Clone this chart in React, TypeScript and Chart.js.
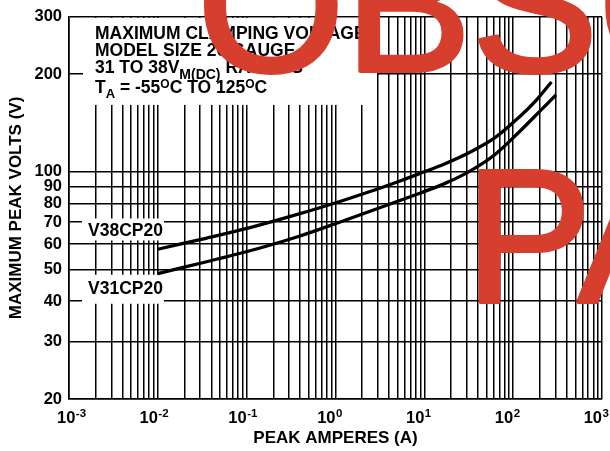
import React, { useEffect, useRef } from 'react';
import { Chart, registerables } from 'chart.js';

Chart.register(...registerables);

// ---- data ----
const v38Amps = [0.01, 0.0298, 0.109, 0.398, 1.12, 2.45, 5.32, 8.9, 17.1, 32.6, 62.5, 119, 176, 270];
const v38Volts = [57.8, 61.9, 67.4, 74.4, 81.1, 87.0, 93.8, 98.9, 106, 115, 127.5, 148.2, 164.6, 189.2];
const v31Amps = [0.01, 0.109, 0.398, 1.28, 2.45, 8.9, 17.1, 32.6, 62.5, 119, 200, 303];
const v31Volts = [48.6, 57.2, 63.5, 71.0, 75.7, 86.0, 92.2, 100.6, 113.2, 133.4, 153.8, 172.6];
const seriesNames = ['V38CP20', 'V31CP20'];
const seriesLabelVolts = [66.5, 44];

const xDecadeExponents = [-3, -2, -1, 0, 1, 2, 3];
const xMultipliers = [1, 2, 3, 4, 5, 6, 7, 8, 9];
const yTickValues = [20, 30, 40, 50, 60, 70, 80, 90, 100, 200, 300];

const xTitle = 'PEAK AMPERES (A)';
const yTitle = 'MAXIMUM PEAK VOLTS (V)';
const watermarkLines = ['OBSOLETE', 'PART'];

const FONT = "'Liberation Sans', Arial, Helvetica, sans-serif";
const RED = '#D63E2E';

const xGridValues: number[] = [];
for (let i = 0; i < xDecadeExponents.length - 1; i++) {
  for (const m of xMultipliers) {
    xGridValues.push(Number((m * Math.pow(10, xDecadeExponents[i])).toPrecision(3)));
  }
}
xGridValues.push(Math.pow(10, xDecadeExponents[xDecadeExponents.length - 1]));

type Run = { t: string; size: number; dy: number };

function drawRuns(ctx: CanvasRenderingContext2D, x: number, y: number, runs: Run[]) {
  let cx = x;
  for (const r of runs) {
    ctx.font = `bold ${r.size}px ${FONT}`;
    ctx.fillText(r.t, cx, y + r.dy);
    cx += ctx.measureText(r.t).width;
  }
}

const titleRuns: Run[][] = [
  [{ t: 'MAXIMUM CLAMPING VOLTAGE', size: 17.5, dy: 0 }],
  [{ t: 'MODEL SIZE 20 GAUGE', size: 17.5, dy: 0 }],
  [
    { t: '31 TO 38V', size: 17.5, dy: 0 },
    { t: 'M(DC)', size: 14, dy: 6.5 },
    { t: ' RATINGS', size: 17.5, dy: 0 },
  ],
  [
    { t: 'T', size: 17.5, dy: 0 },
    { t: 'A', size: 13, dy: 4.5 },
    { t: ' = -55', size: 17.5, dy: 0 },
    { t: 'O', size: 12, dy: -5 },
    { t: 'C TO 125', size: 17.5, dy: 0 },
    { t: 'O', size: 12, dy: -5 },
    { t: 'C', size: 17.5, dy: 0 },
  ],
];

const overlayPlugin = {
  id: 'overlay',
  beforeDatasetsDraw(chart: any) {
    const { ctx, chartArea: a } = chart;
    const ys = chart.scales.y;
    ctx.save();
    ctx.fillStyle = '#fff';
    ctx.fillRect(a.left + 14, a.top + 1, 294, 87);
    const cy0 = ys.getPixelForValue(seriesLabelVolts[0]);
    const cy1 = ys.getPixelForValue(seriesLabelVolts[1]);
    ctx.fillRect(a.left + 13, cy0 - 11, 82, 22);
    ctx.fillRect(a.left + 13, cy1 - 13, 82, 29);

    ctx.fillStyle = '#000';
    ctx.textAlign = 'left';
    ctx.textBaseline = 'alphabetic';
    const baselines = [21.7, 39, 55.7, 76.3];
    titleRuns.forEach((runs, i) => drawRuns(ctx, a.left + 26, a.top + baselines[i], runs));

    ctx.font = `bold 17.5px ${FONT}`;
    ctx.fillText(seriesNames[0], a.left + 19, cy0 + 6.3);
    ctx.fillText(seriesNames[1], a.left + 19, cy1 + 6.3);
    ctx.restore();
  },
  afterDraw(chart: any) {
    const { ctx, chartArea: a } = chart;
    const xs = chart.scales.x;
    ctx.save();
    ctx.fillStyle = '#000';
    ctx.textAlign = 'left';
    ctx.textBaseline = 'alphabetic';
    for (const e of xDecadeExponents) {
      const px = xs.getPixelForValue(Math.pow(10, e));
      ctx.font = `bold 16.5px ${FONT}`;
      const w = ctx.measureText('10').width;
      const left = Math.max(px - w, a.left - 12);
      ctx.fillText('10', left, a.bottom + 23.7);
      ctx.font = `bold 11.5px ${FONT}`;
      ctx.fillText(String(e), left + w + 0.5, a.bottom + 18);
    }
    ctx.font = `190px ${FONT}`;
    ctx.fillStyle = RED;
    ctx.strokeStyle = RED;
    ctx.lineWidth = 4;
    ctx.lineJoin = 'round';
    ctx.fillText(watermarkLines[0], 197, 70.5);
    ctx.strokeText(watermarkLines[0], 197, 70.5);
    ctx.fillText(watermarkLines[1], 465, 302);
    ctx.strokeText(watermarkLines[1], 465, 302);
    ctx.restore();
  },
};

export default function App() {
  const ref = useRef<HTMLCanvasElement | null>(null);
  useEffect(() => {
    document.body.style.margin = '0';
    const canvas = ref.current;
    if (!canvas) return;
    const mk = (xs: number[], ys: number[]) => xs.map((x, i) => ({ x, y: ys[i] }));
    const chart = new Chart(canvas, {
      type: 'line',
      data: {
        datasets: [
          {
            label: seriesNames[0],
            data: mk(v38Amps, v38Volts),
            borderColor: '#000',
            borderWidth: 3.3,
            pointRadius: 0,
            tension: 0.35,
            fill: false,
          },
          {
            label: seriesNames[1],
            data: mk(v31Amps, v31Volts),
            borderColor: '#000',
            borderWidth: 3.3,
            pointRadius: 0,
            tension: 0.35,
            fill: false,
          },
        ],
      },
      options: {
        responsive: false,
        animation: false,
        devicePixelRatio: 1,
        layout: { padding: { top: 11, right: 8, left: 0, bottom: 0 } },
        plugins: { legend: { display: false }, tooltip: { enabled: false } },
        scales: {
          x: {
            type: 'logarithmic',
            min: 0.001,
            max: 1000,
            afterBuildTicks: (s: any) => {
              s.ticks = xGridValues.map((v) => ({ value: v }));
            },
            afterFit: (s: any) => {
              s.height = 52;
            },
            ticks: { display: false, autoSkip: false },
            grid: { color: '#000', lineWidth: 1.5, drawTicks: false },
            border: { color: '#000', width: 1.6 },
            title: {
              display: true,
              text: xTitle,
              color: '#000',
              font: { family: FONT, size: 17, weight: 'bold' },
              padding: { top: 0, bottom: 2 },
            },
          },
          y: {
            type: 'logarithmic',
            min: 20,
            max: 300,
            afterBuildTicks: (s: any) => {
              s.ticks = yTickValues.map((v) => ({ value: v }));
            },
            afterFit: (s: any) => {
              s.width = 69;
            },
            ticks: {
              autoSkip: false,
              padding: 7,
              color: '#000',
              font: { family: FONT, size: 16.5, weight: 'bold' },
              callback: (v: any) => String(v),
            },
            grid: { color: '#000', lineWidth: 1.5, drawTicks: false },
            border: { color: '#000', width: 1.6 },
            title: {
              display: true,
              text: yTitle,
              color: '#000',
              font: { family: FONT, size: 17, weight: 'bold' },
              padding: { top: 6, bottom: 0 },
            },
          },
        },
      },
      plugins: [overlayPlugin],
    } as any);
    return () => chart.destroy();
  }, []);
  return <canvas ref={ref} width={610} height={451} style={{ display: 'block' }} />;
}
